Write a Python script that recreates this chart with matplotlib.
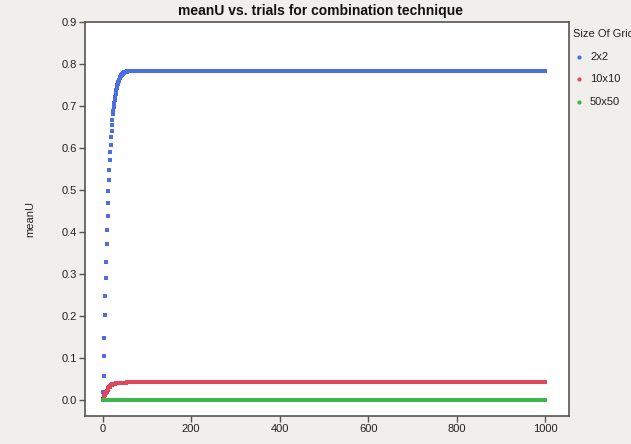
import numpy as np
import matplotlib
matplotlib.use("Agg")
import matplotlib.pyplot as plt

plt.rcParams['font.family'] = ['Liberation Sans', 'DejaVu Sans']

# ---- data ----
n_trials = 1000
trials = np.arange(1, n_trials + 1)

# 2x2: values read for early trials, then a flat plateau
blue_rise = [0.019, 0.057, 0.104, 0.148, 0.203, 0.247, 0.290, 0.329, 0.372, 0.405,
             0.438, 0.469, 0.498, 0.524, 0.548, 0.571, 0.590, 0.608, 0.626, 0.641,
             0.654, 0.666, 0.680, 0.689, 0.698, 0.706, 0.714, 0.721, 0.728, 0.734,
             0.739, 0.744, 0.749, 0.753, 0.757, 0.760, 0.763, 0.766, 0.768, 0.770,
             0.772, 0.773, 0.775, 0.776, 0.777, 0.778, 0.779, 0.779, 0.780, 0.780,
             0.781, 0.781, 0.782, 0.782, 0.782]
blue_plateau = 0.783

# 10x10
red_rise = [0.002, 0.005, 0.007, 0.010, 0.012, 0.014, 0.016, 0.018, 0.020, 0.022,
            0.024, 0.026, 0.028, 0.030, 0.031, 0.032, 0.033, 0.035, 0.036, 0.036,
            0.037, 0.037, 0.038, 0.038, 0.038, 0.039, 0.039, 0.039, 0.040, 0.040,
            0.040, 0.040, 0.041, 0.041, 0.041, 0.041, 0.041, 0.041, 0.041, 0.041,
            0.041, 0.041, 0.041, 0.041, 0.041, 0.041, 0.041, 0.041, 0.041, 0.041,
            0.041, 0.041, 0.041, 0.042, 0.042]
red_plateau = 0.044

# 50x50
green_rise = [0.000]
green_plateau = 0.000

labels = ["2x2", "10x10", "50x50"]
colors = ["#4a6fe3", "#e0475a", "#3db54a"]

def full_series(rise, plateau):
    return np.array(list(rise) + [plateau] * (n_trials - len(rise)))

series = [full_series(blue_rise, blue_plateau),
          full_series(red_rise, red_plateau),
          full_series(green_rise, green_plateau)]

# ---- figure ----
W, H = 631, 444
bg = "#f0efeb"
fig = plt.figure(figsize=(W / 100, H / 100), dpi=100, facecolor=bg)
L, R, T, B = 85, 569, 22, 416
ax = fig.add_axes([L / W, 1 - B / H, (R - L) / W, (B - T) / H])
ax.set_facecolor("white")

for y, c, lab in zip(series, colors, labels):
    ax.scatter(trials, y, s=5.0, marker='s', color=c, linewidths=0, label=lab, zorder=3)

ax.set_xlim(-40, 1054)
ax.set_ylim(-0.038, 0.9)
ax.set_xticks([0, 200, 400, 600, 800, 1000])
ax.set_yticks(np.arange(0, 0.91, 0.1))
ax.yaxis.set_major_formatter(matplotlib.ticker.FormatStrFormatter('%.1f'))
ax.tick_params(direction='out', length=4, width=1, color='#555555',
               labelsize=8, labelcolor='#222222', pad=2)
for s in ax.spines.values():
    s.set_color('#555555')
    s.set_linewidth(1.2)

fig.text(321 / W, 1 - 11 / H, "meanU vs. trials for combination technique",
         ha='center', va='center', fontsize=10, fontweight='bold', color='#111111')
fig.text(30 / W, 1 - 219 / H, "meanU", rotation=90, ha='center', va='center',
         fontsize=8, color='#222222')

# legend drawn manually (clipped at right edge like the reference)
fig.text(573 / W, 1 - 34 / H, "Size Of Grid", ha='left', va='center',
         fontsize=8, color='#222222')
for i, (lab, c) in enumerate(zip(labels, colors)):
    yy = 1 - (57 + 22.5 * i) / H
    fig.lines.append(matplotlib.lines.Line2D([579 / W], [yy], marker='o', markersize=2.0,
                                             color=c, transform=fig.transFigure,
                                             linestyle='none'))
    fig.text(590 / W, yy, lab, ha='left', va='center', fontsize=8, color='#222222')

fig.savefig("out.png", dpi=100, facecolor=bg)
